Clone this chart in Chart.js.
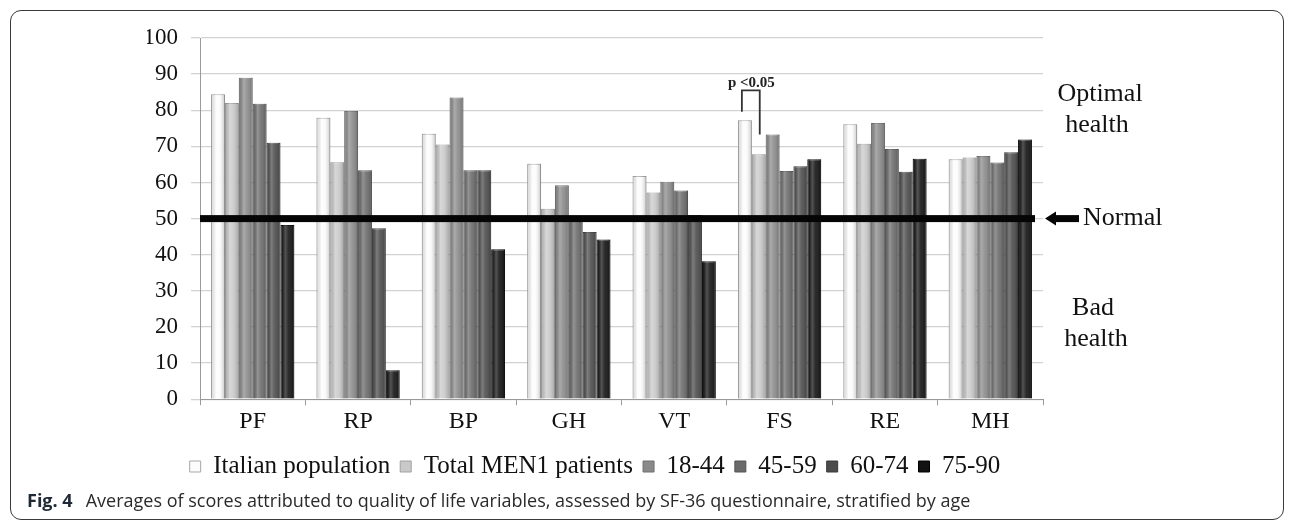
<!DOCTYPE html>
<html>
<head>
<meta charset="utf-8">
<script src="https://cdn.jsdelivr.net/npm/chart.js@4.4.1/dist/chart.umd.min.js"></script>
<style>
  html, body { margin: 0; padding: 0; background: #fff; }
  body { width: 1295px; height: 522px; position: relative; overflow: hidden; }
  #frame {
    position: absolute; left: 10px; top: 10px; width: 1272px; height: 508px;
    border: 1.5px solid #3a3a3a; border-radius: 11px;
  }
  #chart { position: absolute; left: 0; top: 0; }
  .caption {
    position: absolute; left: 27px; top: 488px; line-height: 24px;
    font-family: "Open Sans", "Noto Sans", sans-serif; font-size: 18px;
    color: #2a2a2a; white-space: nowrap;
  }
  .caption b { color: #1f2a36; font-weight: 700; }
  .caption span { margin-left: 13px; }
</style>
</head>
<body>
<div id="frame"></div>
<canvas id="chart" width="1295" height="495"></canvas>
<div class="caption"><b>Fig. 4</b><span>Averages of scores attributed to quality of life variables, assessed by SF-36 questionnaire, stratified by age</span></div>

<script>
// SF-36 domains
const categories = ['PF', 'RP', 'BP', 'GH', 'VT', 'FS', 'RE', 'MH'];

// mean scores
const italianPopulation = [84.4, 77.9, 73.5, 65.2, 61.8, 77.2, 76.1, 66.4];
const totalMen1 = [82.0, 65.6, 70.5, 52.7, 57.2, 67.8, 70.7, 66.9];
const age18to44 = [89.0, 79.8, 83.5, 59.2, 60.2, 73.3, 76.5, 67.3];
const age45to59 = [81.8, 63.4, 63.4, 50.0, 57.8, 63.2, 69.3, 65.5];
const age60to74 = [71.0, 47.3, 63.4, 46.3, 51.0, 64.5, 63.0, 68.4];
const age75to90 = [48.2, 8.0, 41.5, 44.2, 38.2, 66.4, 66.6, 71.9];

const normalScore = 50;

// p<0.05 bracket on FS (Italian vs Total MEN1), values on the y scale
const pBracket = { category: 5, top: 85.5, leftEnd: 79.6, rightEnd: 73.3, label: 'p <0.05' };

// side notes, vertical positions in score units
const sideNotes = [
    { text: 'Optimal', value: 84.5, dx: 57 },
    { text: 'health', value: 76.0, dx: 54 },
    { text: 'Bad', value: 25.2, dx: 50 },
    { text: 'health', value: 16.6, dx: 53 }
];

const SERIF = '"Liberation Serif", "DejaVu Serif", serif';

function bars(label, data, fill, edge) {
    return {
        label: label,
        data: data,
        backgroundColor: fill,
        borderColor: edge,
        borderWidth: 1,
        categoryPercentage: 0.79,
        barPercentage: 1.0
    };
}

// 陰影 + 50 分基準線 + 標註
const decorPlugin = {
    id: 'decor',
    afterDatasetsDraw(chart) {
        const { ctx, chartArea, scales: { y } } = chart;
        ctx.save();

        // cylinder-like shading on every bar
        chart.data.datasets.forEach((ds, i) => {
            chart.getDatasetMeta(i).data.forEach(bar => {
                const p = bar.getProps(['x', 'y', 'base', 'width'], true);
                const left = p.x - p.width / 2;
                const g = ctx.createLinearGradient(left, 0, left + p.width, 0);
                g.addColorStop(0, 'rgba(0,0,0,0.10)');
                g.addColorStop(0.35, 'rgba(255,255,255,0.28)');
                g.addColorStop(0.6, 'rgba(255,255,255,0.10)');
                g.addColorStop(1, 'rgba(0,0,0,0.22)');
                ctx.fillStyle = g;
                ctx.fillRect(left, p.y, p.width, p.base - p.y);
            });
        });

        // thick "normal" line
        const yN = y.getPixelForValue(normalScore);
        ctx.fillStyle = '#050505';
        ctx.fillRect(chartArea.left, yN - 3.5, chartArea.right - 8 - chartArea.left, 7);

        // arrow + Normal
        const ax = chartArea.right + 2;
        ctx.beginPath();
        ctx.moveTo(ax, yN);
        ctx.lineTo(ax + 11, yN - 7);
        ctx.lineTo(ax + 11, yN + 7);
        ctx.closePath();
        ctx.fill();
        ctx.fillRect(ax + 10, yN - 3.5, 24, 7);

        ctx.font = '26px ' + SERIF;
        ctx.fillStyle = '#111';
        ctx.textBaseline = 'middle';
        ctx.textAlign = 'left';
        ctx.fillText('Normal', chartArea.right + 40, yN);

        ctx.textAlign = 'center';
        sideNotes.forEach(n => {
            ctx.fillText(n.text, chartArea.right + n.dx, y.getPixelForValue(n.value));
        });

        // p<0.05 bracket
        const b1 = chart.getDatasetMeta(0).data[pBracket.category];
        const b2 = chart.getDatasetMeta(1).data[pBracket.category];
        const yTop = y.getPixelForValue(pBracket.top);
        ctx.strokeStyle = '#333';
        ctx.lineWidth = 1.8;
        ctx.beginPath();
        ctx.moveTo(b1.x - 3, y.getPixelForValue(pBracket.leftEnd));
        ctx.lineTo(b1.x - 3, yTop);
        ctx.lineTo(b2.x + 1, yTop);
        ctx.lineTo(b2.x + 1, y.getPixelForValue(pBracket.rightEnd));
        ctx.stroke();
        ctx.font = 'bold 15px ' + SERIF;
        ctx.textAlign = 'left';
        ctx.fillStyle = '#222';
        ctx.fillText(pBracket.label, b1.x - 17, yTop - 7);

        ctx.restore();
    }
};

new Chart(document.getElementById('chart'), {
    type: 'bar',
    data: {
        labels: categories,
        datasets: [
            bars('Italian population', italianPopulation, '#fcfcfc', '#a8a8a8'),
            bars('Total MEN1 patients', totalMen1, '#c9c9c9', '#a0a0a0'),
            bars('18-44', age18to44, '#8a8a8a', '#707070'),
            bars('45-59', age45to59, '#6a6a6a', '#555555'),
            bars('60-74', age60to74, '#4b4b4b', '#3a3a3a'),
            bars('75-90', age75to90, '#121212', '#000000')
        ]
    },
    options: {
        responsive: false,
        animation: false,
        layout: {
            padding: { left: 147, right: 252, top: 38, bottom: 6 }
        },
        plugins: {
            tooltip: { enabled: false },
            legend: {
                position: 'bottom',
                labels: {
                    color: '#111',
                    font: { family: SERIF, size: 25 },
                    boxWidth: 11,
                    boxHeight: 11,
                    padding: 10
                }
            }
        },
        scales: {
            x: {
                grid: { drawOnChartArea: false, drawTicks: true, tickLength: 6, color: '#999' },
                border: { color: '#999' },
                ticks: { color: '#111', font: { family: SERIF, size: 24 }, padding: 2 },
                afterFit(scale) { scale.height += 6; }
            },
            y: {
                min: 0,
                max: 100,
                grid: { color: '#d2d2d2', lineWidth: 1.3, tickLength: 9 },
                border: { color: '#9a9a9a' },
                ticks: { stepSize: 10, color: '#111', font: { family: SERIF, size: 23 }, padding: 13 },
                afterFit(scale) { scale.width = 53; }
            }
        }
    },
    plugins: [decorPlugin]
});
</script>
</body>
</html>
